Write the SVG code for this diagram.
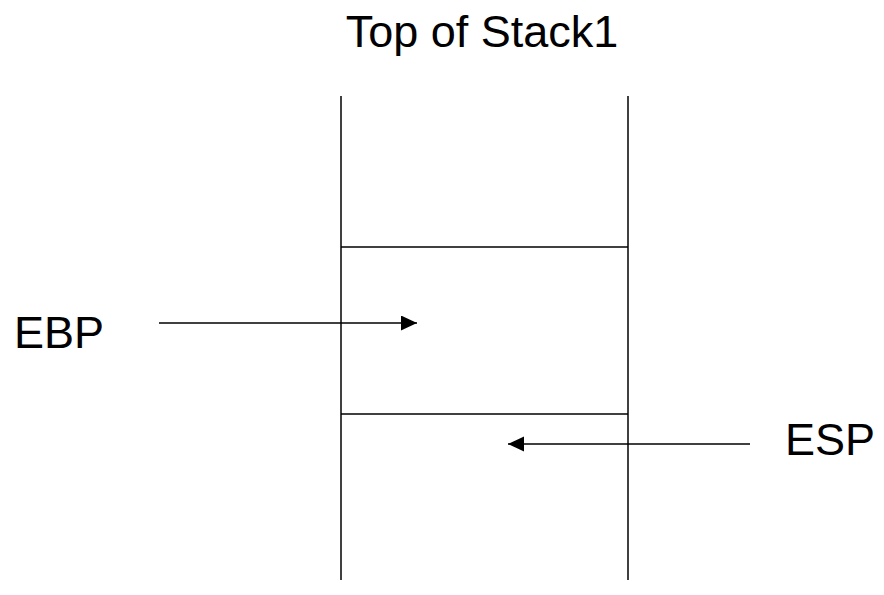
<svg xmlns="http://www.w3.org/2000/svg" width="884" height="595" viewBox="0 0 884 595">
<style>
.t{font-family:"Liberation Sans",Arial,sans-serif;font-size:45px;fill:#000}
.l{stroke:#000;stroke-width:1.5;fill:none}
</style>
<defs>
<marker id="ah" markerUnits="userSpaceOnUse" markerWidth="16" markerHeight="16" refX="16" refY="7.5" orient="auto">
<path d="M0,0 L16,7.5 L0,15 Z" fill="#000"/>
</marker>
</defs>
<rect width="884" height="595" fill="#fff"/>
<g id="stack">
<line class="l" x1="341" y1="96" x2="341" y2="580"/>
<line class="l" x1="628" y1="96" x2="628" y2="580"/>
<line class="l" x1="341" y1="247" x2="628" y2="247"/>
<line class="l" x1="341" y1="414" x2="628" y2="414"/>
</g>
<g id="title"><text class="t" x="482" y="47" text-anchor="middle">Top of Stack1</text></g>
<g id="ebp"><text class="t" x="14" y="348">EBP</text></g>
<g id="esp"><text class="t" x="785" y="455">ESP</text></g>
<g id="connectors">
<line class="l" x1="159" y1="323" x2="417" y2="323" marker-end="url(#ah)"/>
<line class="l" x1="750" y1="444" x2="508" y2="444" marker-end="url(#ah)"/>
</g>
</svg>
